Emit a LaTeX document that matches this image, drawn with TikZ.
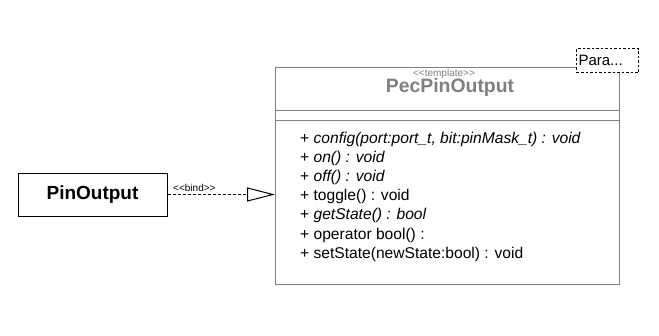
\documentclass[tikz,border=0pt]{standalone}
\usepackage{fontspec}
\setmainfont{Liberation Sans}
\usepackage{xcolor}
\usetikzlibrary{arrows.meta,positioning,calc}
\definecolor{umlgray}{HTML}{808080}
\begin{document}
\begin{tikzpicture}[
  x=1pt,y=-1pt,
  classbox/.style={draw=umlgray,line width=1pt,fill=white,minimum width=344pt,minimum height=217pt,inner sep=0pt,anchor=north west},
  plainbox/.style={draw,line width=1pt,fill=white,minimum width=149pt,minimum height=43pt,inner sep=0pt,font=\fontsize{19}{21}\selectfont\bfseries},
  parambox/.style={draw,dashed,dash pattern=on 2.5pt off 2pt,line width=1pt,fill=white,minimum width=62pt,minimum height=24pt,text width=58pt,inner sep=2pt,align=left,anchor=north west,font=\fontsize{15}{17}\selectfont},
  oplist/.style={align=left,inner sep=0pt,anchor=north west,font=\fontsize{15.6}{19.2}\selectfont},
  stereo/.style={text=umlgray,inner sep=0pt,font=\fontsize{10}{11}\selectfont},
  bindarrow/.style={-{Triangle[open,length=28pt,width=14pt]},line width=1pt,dash pattern=on 3pt off 2pt}
]
\useasboundingbox (0,0) rectangle (659,335);
% template class
\node[classbox] (cls) at (275,67) {};
\draw[umlgray,line width=1pt] ($(cls.north west)+(0,43)$) -- ($(cls.north east)+(0,43)$);
\draw[umlgray,line width=1pt] ($(cls.north west)+(0,53)$) -- ($(cls.north east)+(0,53)$);
\node[stereo] (tpl) at (444,74) {<{}<template>{}>};
\node[text=umlgray,inner sep=0pt,font=\fontsize{19.4}{21}\selectfont\bfseries] (title) at (450,87.5) {PecPinOutput};
\node[oplist] (ops) at (300,131.5) {%
+ \textit{config(port:port\_t, bit:pinMask\_t) : void}\\
+ \textit{on() : void}\\
+ \textit{off() : void}\\
+ toggle() : void\\
+ \textit{getState() : bool}\\
+ operator bool() :\\
+ setState(newState:bool) : void};
% template parameter
\node[parambox] (param) at (576,48) {Para...};
% bound class
\node[plainbox] (pin) at (92.5,194.5) {PinOutput};
\coordinate (bindend) at (pin.east -| cls.west);
\draw[bindarrow] (pin.east) -- node[pos=0.25,above,inner sep=2pt,font=\fontsize{10}{11}\selectfont] {<{}<bind>{}>} (bindend);
\end{tikzpicture}
\end{document}
